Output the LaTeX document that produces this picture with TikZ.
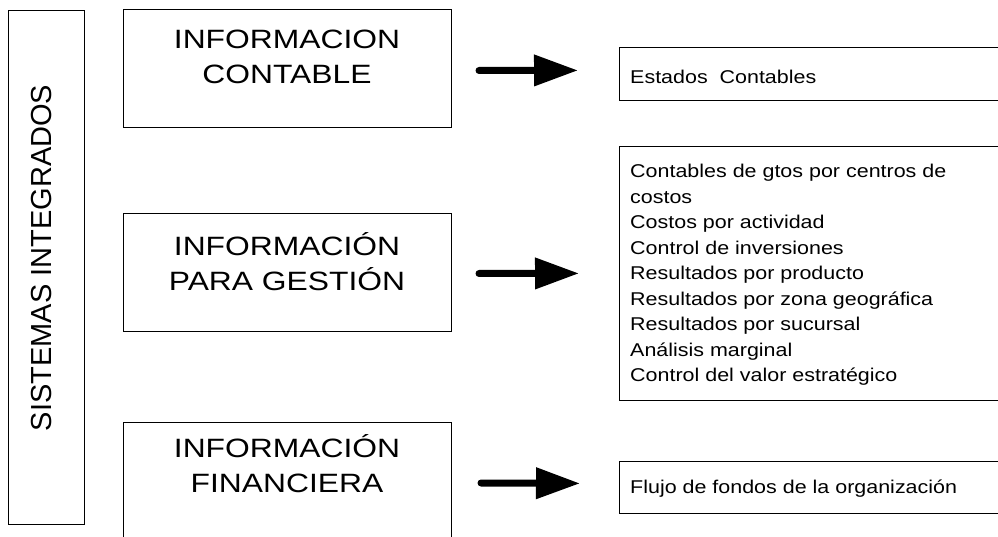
\documentclass[tikz,border=0pt]{standalone}
\usepackage{fontspec}
\setmainfont{Liberation Sans}
\newfontfamily\bigwide[FakeStretch=1.2]{Liberation Sans}
\newfontfamily\smallwide[FakeStretch=1.16]{Liberation Sans}
\usetikzlibrary{arrows.meta,calc}
\begin{document}
\begin{tikzpicture}[x=1pt,y=-1pt,
  frame/.style={draw, line width=1pt, inner sep=0pt, anchor=north west},
  openframe/.style={draw, line width=0.8pt, inner sep=0pt, anchor=north west, minimum width=420pt},
  bigtext/.style={font=\bigwide\fontsize{26.5}{35}\selectfont, align=center, inner sep=0pt},
  smalltext/.style={font=\smallwide\fontsize{18.5}{25.5}\selectfont, align=left, inner sep=0pt},
  bigarrow/.style={line width=7pt, line cap=round, -{Triangle[length=44pt,width=30pt]}}]
\useasboundingbox (0,0) rectangle (998,537);
% left column
\node[frame, minimum width=76pt, minimum height=514pt] (sys) at (8,10) {};
\node[rotate=90, inner sep=0pt, font=\fontsize{29}{29}\selectfont] (systxt) at (42,258) {SISTEMAS INTEGRADOS};
% middle boxes
\node[frame, minimum width=328pt, minimum height=118pt] (b1) at (123,9) {};
\node[frame, minimum width=328pt, minimum height=118pt] (b2) at (123,213) {};
\node[frame, minimum width=328pt, minimum height=150pt] (b3) at (123,422) {};
\node[bigtext] (t1) at (287,57) {INFORMACION\\CONTABLE};
\node[bigtext] (t2) at (287,262) {INFORMACIÓN\\PARA GESTIÓN};
\node[bigtext] (t3) at (287,464) {INFORMACIÓN\\FINANCIERA};
% right boxes
\node[openframe, minimum height=53pt] (r1) at (619,47) {};
\node[openframe, minimum height=254pt] (r2) at (619,146) {};
\node[openframe, minimum height=52pt] (r3) at (619,461) {};
\node[smalltext, anchor=base west] (s1) at (630,84) {Estados\ \ Contables};
\node[smalltext, anchor=west] (s2) at (630,275) {Contables de gtos por centros de\\costos\\Costos por actividad\\Control de inversiones\\Resultados por producto\\Resultados por zona geográfica\\Resultados por sucursal\\Análisis marginal\\Control del valor estratégico};
\node[smalltext, anchor=base west] (s3) at (630,493) {Flujo de fondos de la organización};
% arrows
\draw[bigarrow] ($(b1.east)+(27,2)$) -- ($(r1.west)+(-41,-3.5)$);
\draw[bigarrow] ($(b2.east)+(27,1)$) -- ($(r2.west)+(-40,0)$);
\draw[bigarrow] ($(b3.north east)+(29,61)$) -- ($(r3.west)+(-39,-4)$);
\end{tikzpicture}
\end{document}
